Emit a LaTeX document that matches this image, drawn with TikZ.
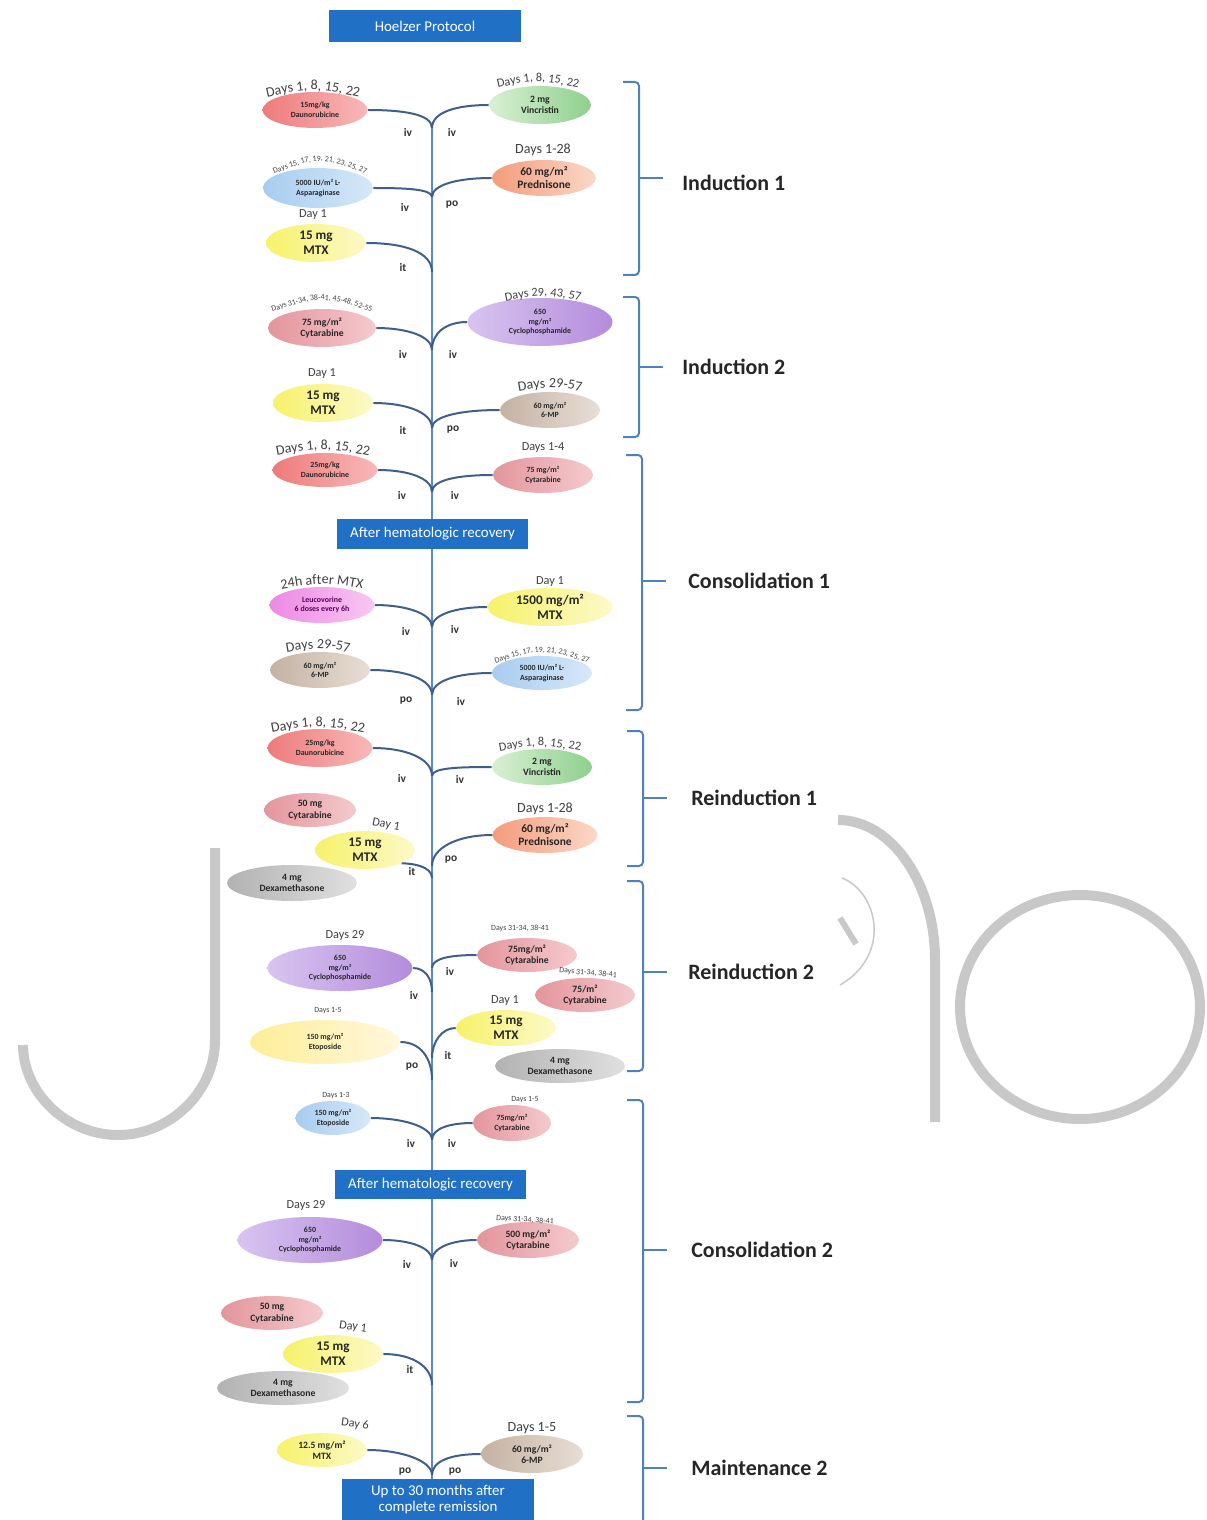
\documentclass[tikz,border=0pt]{standalone}
\usepackage{fontspec}
\setmainfont{Carlito}
\usepackage{tikz}
\usetikzlibrary{shapes.geometric, decorations.text, positioning}
\newcommand{\fs}[2]{\fontsize{#1}{#2}\selectfont}
\newcommand{\archead}[6]{%
  \path[decorate, decoration={text along path, text align=center,
      text={|#5\color{hdrgray}|#6}}]
    (#1-#3,#2+#4) .. controls (#1,#2-#4) .. (#1+#3,#2+#4);}
\newcommand{\phasebracket}[4]{%
  \draw[bracket] (#1-16,#2) -- (#1,#2) -- (#1,#4) -- (#1-16,#4);
  \draw[bracket] (#1,#3) -- (#1+24,#3);}
\definecolor{boxblue}{HTML}{2070C6}
\definecolor{stemblue}{HTML}{5A8AC6}
\definecolor{branchblue}{HTML}{3E5F8A}
\definecolor{bracketblue}{HTML}{4F81BD}
\definecolor{wmgray}{HTML}{C8C8C8}
\definecolor{hdrgray}{HTML}{404040}
\definecolor{daunoL}{HTML}{EE7B7B}
\definecolor{daunoR}{HTML}{F8B8B8}
\definecolor{vincL}{HTML}{D9F0D3}
\definecolor{vincR}{HTML}{8ED08E}
\definecolor{aspaL}{HTML}{A8CCF0}
\definecolor{aspaR}{HTML}{D6E8F8}
\definecolor{predL}{HTML}{F49C7C}
\definecolor{predR}{HTML}{FAD8C8}
\definecolor{mtxL}{HTML}{F7F26A}
\definecolor{mtxR}{HTML}{FCF9C8}
\definecolor{cytaL}{HTML}{E3959C}
\definecolor{cytaR}{HTML}{F4CACD}
\definecolor{cycloL}{HTML}{D8C4F0}
\definecolor{cycloR}{HTML}{B48CDC}
\definecolor{mpL}{HTML}{C4B2A2}
\definecolor{mpR}{HTML}{E8DED6}
\definecolor{leucoL}{HTML}{EE88E4}
\definecolor{leucoR}{HTML}{F8C8F2}
\definecolor{dexaL}{HTML}{B2B2B2}
\definecolor{dexaR}{HTML}{E0E0E0}
\definecolor{etopL}{HTML}{FFEE98}
\definecolor{etopR}{HTML}{FFF8DC}
\tikzset{
    drug/.style={ellipse, inner sep=0pt, align=center, text=black!85},
    dauno/.style={drug, left color=daunoL, right color=daunoR},
    vinc/.style={drug, left color=vincL, right color=vincR},
    aspa/.style={drug, left color=aspaL, right color=aspaR},
    pred/.style={drug, left color=predL, right color=predR},
    mtx/.style={drug, left color=mtxL, right color=mtxR},
    cyta/.style={drug, left color=cytaL, right color=cytaR},
    cyclo/.style={drug, left color=cycloL, right color=cycloR},
    sixmp/.style={drug, left color=mpL, right color=mpR},
    leuco/.style={drug, left color=leucoL, right color=leucoR, text=violet!70!black},
    dexa/.style={drug, left color=dexaL, right color=dexaR},
    etop/.style={drug, left color=etopL, right color=etopR},
    tinytext/.style={font=\fs{4.5}{5.5}\bfseries},
    smalltext/.style={font=\fs{5.5}{6.5}\bfseries},
    midtext/.style={font=\fs{6.5}{7.5}\bfseries},
    bigtext/.style={font=\fs{7.5}{8.5}\bfseries},
    hdr/.style={font=\fs{8}{9}, text=hdrgray},
    hdrsmall/.style={font=\fs{7}{8}, text=hdrgray},
    hdrtiny/.style={font=\fs{4.5}{5}, text=hdrgray},
    route/.style={font=\fs{6.5}{7}\bfseries, text=black!80},
    box/.style={rectangle, fill=boxblue, text=white, align=center, font=\fs{8.5}{10}},
    phase/.style={font=\fs{12.5}{15}\bfseries, text=black!85, anchor=west, inner sep=0pt},
    stem/.style={draw=stemblue, line width=0.04cm},
    branch/.style={draw=branchblue, line width=0.04cm},
    bracket/.style={draw=bracketblue, line width=0.04cm, rounded corners=0.08cm},
    wmark/.style={draw=wmgray, line width=0.2cm},
}
\begin{document}
\begin{tikzpicture}[x=0.02cm, y=-0.02cm]
  \useasboundingbox (0,0) rectangle (1206,1520);

  % watermark behind the chart
  \draw[wmark] (215,848) -- (215,1040) .. controls (215,1092) and (170,1135) .. (118,1135)
    .. controls (66,1135) and (23,1092) .. (23,1045);
  \draw[wmark] (838,820) .. controls (892,820) and (935,884) .. (935,960) -- (935,1122);
  \draw[wmark, line width=0.03cm] (842,878) .. controls (878,892) and (892,955) .. (840,985);
  \draw[wmark, line width=0.12cm] (840,918) -- (856,944);
  \draw[wmark] (1080,1007) ellipse [x radius=120, y radius=112];

  % junctions on the stem
  \coordinate (j1) at (432,128);
  \coordinate (j2) at (432,197);
  \coordinate (j3) at (432,272);
  \coordinate (j4) at (432,350);
  \coordinate (j5) at (432,428);
  \coordinate (j6) at (432,492);
  \coordinate (j7) at (432,627);
  \coordinate (j8) at (432,695);
  \coordinate (j9) at (432,776);
  \coordinate (j10) at (432,866);
  \coordinate (j11) at (432,878);
  \coordinate (j12) at (432,968);
  \coordinate (j13) at (432,992);
  \coordinate (j14) at (432,1058);
  \coordinate (j15) at (432,1080);
  \coordinate (j16) at (432,1140);
  \coordinate (j17) at (432,1260);
  \coordinate (j18) at (432,1385);
  \coordinate (j19) at (432,1475);
  \coordinate (jend) at (432,1488);
  \draw[stem] (j1) -- (jend);

  \node[box, minimum width=3.84cm, minimum height=0.64cm] (title) at (425,26) {Hoelzer Protocol};

  % Induction 1
  \node[dauno, tinytext, minimum width=2.1cm, minimum height=0.72cm] (dauno1) at (315,110) {15mg/kg\\Daunorubicine};
  \archead{313}{93}{54}{6}{\fs{8}{9}}{Days 1, 8, 15, 22}
  \node[vinc, smalltext, minimum width=2.04cm, minimum height=0.76cm] (vinc1) at (540,105) {2 mg\\Vincristin};
  \archead{538}{84}{46}{5}{\fs{7}{8}}{Days 1, 8, 15, 22}
  \node[aspa, tinytext, minimum width=2.2cm, minimum height=0.8cm] (asp1) at (318,188) {5000 IU/m² L-\\Asparaginase};
  \archead{320}{167}{58}{12}{\fs{4.5}{5}}{Days 15, 17, 19, 21, 23, 25, 27}
  \node[pred, midtext, minimum width=2.08cm, minimum height=0.72cm] (pred1) at (544,178) {60 mg/m²\\Prednisone};
  \node[hdr] (h-pred1) at (543,150) {Days 1-28};
  \node[mtx, bigtext, minimum width=2cm, minimum height=0.76cm] (mtx1) at (316,243) {15 mg\\MTX};
  \node[hdrsmall] (h-mtx1) at (313,215) {Day 1};

  \draw[branch] (dauno1.east) .. controls +(35,0) and +(0,-14) .. (j1);
  \draw[branch] (vinc1.west) .. controls +(-32,0) and +(0,-16) .. (j1);
  \draw[branch] (asp1.east) .. controls +(32,0) and +(0,-8) .. (j2);
  \draw[branch] (pred1.west) .. controls +(-35,0) and +(0,-12) .. (j2);
  \draw[branch] (mtx1.east) .. controls +(38,0) and +(0,-20) .. (j3);
  \node[route] (r1a) at (408,132) {iv};
  \node[route] (r1b) at (452,132) {iv};
  \node[route] (r2a) at (405,207) {iv};
  \node[route] (r2b) at (452,205) {po};
  \node[route] (r3a) at (403,268) {it};

  % Induction 2
  \node[cyta, smalltext, minimum width=2.16cm, minimum height=0.76cm] (cyta2) at (322,328) {75 mg/m²\\Cytarabine};
  \archead{322}{305}{60}{10}{\fs{4.5}{5}}{Days 31-34, 38-41, 45-48, 52-55}
  \node[cyclo, tinytext, minimum width=2.9cm, minimum height=0.96cm] (cyclo2) at (540,322) {650\\mg/m²\\Cyclophosphamide};
  \archead{543}{298}{42}{4}{\fs{7}{8}}{Days 29, 43, 57}
  \node[mtx, bigtext, minimum width=2cm, minimum height=0.76cm] (mtx2) at (323,403) {15 mg\\MTX};
  \node[hdrsmall] (h-mtx2) at (322,374) {Day 1};
  \node[sixmp, tinytext, minimum width=2cm, minimum height=0.72cm] (mp2) at (550,410) {60 mg/m²\\6-MP};
  \archead{550}{389}{36}{3}{\fs{8}{9}}{Days 29-57}

  \draw[branch] (cyta2.east) .. controls +(30,0) and +(0,-14) .. (j4);
  \draw[branch] (cyclo2.west) .. controls +(-20,0) and +(0,-18) .. (j4);
  \draw[branch] (mtx2.east) .. controls +(32,0) and +(0,-16) .. (j5);
  \draw[branch] (mp2.west) .. controls +(-38,0) and +(0,-12) .. (j5);
  \node[route] (r4a) at (403,354) {iv};
  \node[route] (r4b) at (453,354) {iv};
  \node[route] (r5a) at (403,431) {it};
  \node[route] (r5b) at (453,430) {po};

  % Consolidation 1
  \node[dauno, tinytext, minimum width=2.1cm, minimum height=0.68cm] (dauno3) at (325,470) {25mg/kg\\Daunorubicine};
  \archead{323}{452}{54}{5}{\fs{8}{9}}{Days 1, 8, 15, 22}
  \node[cyta, tinytext, minimum width=2cm, minimum height=0.72cm] (cyta3) at (543,475) {75 mg/m²\\Cytarabine};
  \node[hdrsmall] (h-cyta3) at (543,448) {Days 1-4};
  \draw[branch] (dauno3.east) .. controls +(30,0) and +(0,-14) .. (j6);
  \draw[branch] (cyta3.west) .. controls +(-35,0) and +(0,-12) .. (j6);
  \node[route] (r6a) at (402,495) {iv};
  \node[route] (r6b) at (455,495) {iv};

  \node[box, minimum width=3.82cm, minimum height=0.6cm] (recovery1) at (432.5,534) {After hematologic recovery};

  \node[leuco, tinytext, minimum width=2.1cm, minimum height=0.72cm] (leuco3) at (322,605) {Leucovorine\\6 doses every 6h};
  \archead{322}{586}{46}{4}{\fs{8}{9}}{24h after MTX}
  \node[mtx, bigtext, minimum width=2.5cm, minimum height=0.76cm] (mtx3) at (550,607) {1500 mg/m²\\MTX};
  \node[hdrsmall] (h-mtx3) at (550,582) {Day 1};
  \node[sixmp, tinytext, minimum width=2cm, minimum height=0.72cm] (mp3) at (320,670) {60 mg/m²\\6-MP};
  \archead{318}{650}{36}{3}{\fs{8}{9}}{Days 29-57}
  \node[aspa, tinytext, minimum width=2cm, minimum height=0.68cm] (asp3) at (542,673) {5000 IU/m² L-\\Asparaginase};
  \archead{542}{657}{58}{10}{\fs{4.5}{5}}{Days 15, 17, 19, 21, 23, 25, 27}

  \draw[branch] (leuco3.east) .. controls +(30,0) and +(0,-14) .. (j7);
  \draw[branch] (mtx3.west) .. controls +(-32,0) and +(0,-12) .. (j7);
  \draw[branch] (mp3.east) .. controls +(35,0) and +(0,-16) .. (j8);
  \draw[branch] (asp3.west) .. controls +(-35,0) and +(0,-14) .. (j8);
  \node[route] (r7a) at (406,631) {iv};
  \node[route] (r7b) at (455,629) {iv};
  \node[route] (r8a) at (406,701) {po};
  \node[route] (r8b) at (461,701) {iv};

  % Reinduction 1
  \node[dauno, tinytext, minimum width=2.1cm, minimum height=0.76cm] (dauno4) at (320,748) {25mg/kg\\Daunorubicine};
  \archead{318}{729}{54}{5}{\fs{8}{9}}{Days 1, 8, 15, 22}
  \node[vinc, smalltext, minimum width=2cm, minimum height=0.72cm] (vinc4) at (542,767) {2 mg\\Vincristin};
  \archead{540}{748}{46}{4}{\fs{7}{8}}{Days 1, 8, 15, 22}
  \node[cyta, smalltext, minimum width=1.84cm, minimum height=0.68cm] (cyta4) at (310,810) {50 mg\\Cytarabine};
  \node[dexa, smalltext, minimum width=2.6cm, minimum height=0.72cm] (dexa4) at (292,883) {4 mg\\Dexamethasone};
  \node[mtx, bigtext, minimum width=2cm, minimum height=0.76cm] (mtx4) at (365,850) {15 mg\\MTX};
  \node[hdrsmall, rotate=-10] (h-mtx4) at (386,825) {Day 1};
  \node[pred, midtext, minimum width=2.1cm, minimum height=0.72cm] (pred4) at (545,835) {60 mg/m²\\Prednisone};
  \node[hdr] (h-pred4) at (545,809) {Days 1-28};

  \draw[branch] (dauno4.east) .. controls +(32,0) and +(0,-18) .. (j9);
  \draw[branch] (vinc4.west) .. controls +(-35,0) and +(0,-8) .. (j9);
  \draw[branch] (pred4.west) .. controls +(-35,0) and +(0,-18) .. (j10);
  \draw[branch] (mtx4.-20) .. controls +(10,0) and +(0,-12) .. (j11);
  \node[route] (r9a) at (402,778) {iv};
  \node[route] (r9b) at (460,779) {iv};
  \node[route] (r10) at (451,860) {po};
  \node[route] (r11) at (412,872) {it};

  % Reinduction 2
  \node[cyclo, tinytext, minimum width=2.9cm, minimum height=0.92cm] (cyclo5) at (340,968) {650\\mg/m²\\Cyclophosphamide};
  \node[hdrsmall] (h-cyclo5) at (345,935) {Days 29};
  \node[cyta, smalltext, minimum width=2cm, minimum height=0.68cm] (cyta5a) at (527,955) {75mg/m²\\Cytarabine};
  \node[hdrtiny] (h-cyta5a) at (520,928) {Days 31-34, 38-41};
  \node[cyta, smalltext, minimum width=2cm, minimum height=0.68cm] (cyta5b) at (585,995) {75/m²\\Cytarabine};
  \node[hdrtiny, rotate=-5] (h-cyta5b) at (588,973) {Days 31-34, 38-41};
  \node[etop, tinytext, minimum width=3cm, minimum height=0.88cm] (etop5) at (325,1042) {150 mg/m²\\Etoposide};
  \node[hdrtiny] (h-etop5) at (328,1011) {Days 1-5};
  \node[mtx, bigtext, minimum width=2cm, minimum height=0.72cm] (mtx5) at (506,1028) {15 mg\\MTX};
  \node[hdrsmall] (h-mtx5) at (505,1001) {Day 1};
  \node[dexa, smalltext, minimum width=2.6cm, minimum height=0.68cm] (dexa5) at (560,1066) {4 mg\\Dexamethasone};

  \draw[branch] (cyta5a.west) .. controls +(-25,0) and +(0,-10) .. (j12);
  \draw[branch] (cyclo5.east) .. controls +(12,0) and +(0,-14) .. (j13);
  \draw[branch] (mtx5.west) .. controls +(-14,0) and +(0,-16) .. (j14);
  \draw[branch] (etop5.east) .. controls +(20,0) and +(0,-22) .. (j15);
  \node[route] (r12) at (450,971) {iv};
  \node[route] (r13) at (414,995) {iv};
  \node[route] (r14) at (448,1056) {it};
  \node[route] (r15) at (412,1067) {po};

  % Consolidation 2
  \node[aspa, tinytext, minimum width=1.5cm, minimum height=0.68cm] (etop6) at (333,1118) {150 mg/m²\\Etoposide};
  \node[hdrtiny] (h-etop6) at (336,1096) {Days 1-3};
  \node[cyta, tinytext, minimum width=1.56cm, minimum height=0.72cm] (cyta6) at (512,1123) {75mg/m²\\Cytarabine};
  \node[hdrtiny] (h-cyta6) at (525,1100) {Days 1-5};
  \draw[branch] (etop6.east) .. controls +(30,0) and +(0,-14) .. (j16);
  \draw[branch] (cyta6.west) .. controls +(-22,0) and +(0,-12) .. (j16);
  \node[route] (r16a) at (411,1143) {iv};
  \node[route] (r16b) at (452,1143) {iv};

  \node[box, minimum width=3.82cm, minimum height=0.58cm] (recovery2) at (430.5,1184.5) {After hematologic recovery};

  \node[cyclo, tinytext, minimum width=2.9cm, minimum height=0.92cm] (cyclo7) at (310,1240) {650\\mg/m²\\Cyclophosphamide};
  \node[hdrsmall] (h-cyclo7) at (306,1205) {Days 29};
  \node[cyta, smalltext, minimum width=2.04cm, minimum height=0.72cm] (cyta7) at (528,1240) {500 mg/m²\\Cytarabine};
  \node[hdrtiny, rotate=-4] (h-cyta7) at (525,1220) {Days 31-34, 38-41};
  \node[cyta, smalltext, minimum width=2.04cm, minimum height=0.68cm] (cyta8) at (272,1313) {50 mg\\Cytarabine};
  \node[dexa, smalltext, minimum width=2.64cm, minimum height=0.68cm] (dexa8) at (283,1388) {4 mg\\Dexamethasone};
  \node[mtx, bigtext, minimum width=2cm, minimum height=0.76cm] (mtx8) at (333,1354) {15 mg\\MTX};
  \node[hdrsmall, rotate=-8] (h-mtx8) at (353,1327) {Day 1};

  \draw[branch] (cyclo7.east) .. controls +(28,0) and +(0,-12) .. (j17);
  \draw[branch] (cyta7.west) .. controls +(-25,0) and +(0,-12) .. (j17);
  \draw[branch] (mtx8.east) .. controls +(30,0) and +(0,-18) .. (j18);
  \node[route] (r17a) at (407,1264) {iv};
  \node[route] (r17b) at (454,1263) {iv};
  \node[route] (r18) at (410,1370) {it};

  % Maintenance
  \node[mtx, smalltext, minimum width=1.8cm, minimum height=0.68cm] (mtx9) at (322,1450) {12.5 mg/m²\\MTX};
  \node[hdrsmall, rotate=-8] (h-mtx9) at (355,1424) {Day 6};
  \node[sixmp, smalltext, minimum width=2.04cm, minimum height=0.76cm] (mp9) at (532,1454) {60 mg/m²\\6-MP};
  \node[hdr] (h-mp9) at (532,1428) {Days 1-5};
  \draw[branch] (mtx9.east) .. controls +(35,0) and +(0,-14) .. (j19);
  \draw[branch] (mp9.west) .. controls +(-30,0) and +(0,-14) .. (j19);
  \node[route] (r19a) at (405,1472) {po};
  \node[route] (r19b) at (455,1472) {po};

  \node[box, minimum width=3.84cm, minimum height=0.7cm, font=\fs{8.5}{9.5}] (remission) at (438,1499.5) {Up to 30 months after\\complete remission};

  % phases
  \phasebracket{639}{82}{178}{275}
  \node[phase] (ind1) at (682,183) {Induction 1};
  \phasebracket{639}{297}{367}{437}
  \node[phase] (ind2) at (682,367) {Induction 2};
  \phasebracket{642}{455}{581}{710}
  \node[phase] (cons1) at (688,581) {Consolidation 1};
  \phasebracket{643}{731}{798}{866}
  \node[phase] (reind1) at (691,798) {Reinduction 1};
  \phasebracket{643}{881}{972}{1071}
  \node[phase] (reind2) at (688,972) {Reinduction 2};
  \phasebracket{643}{1100}{1250}{1402}
  \node[phase] (cons2) at (691,1250) {Consolidation 2};
  \phasebracket{643}{1416}{1468}{1540}
  \node[phase] (maint) at (691,1468) {Maintenance 2};
\end{tikzpicture}
\end{document}
